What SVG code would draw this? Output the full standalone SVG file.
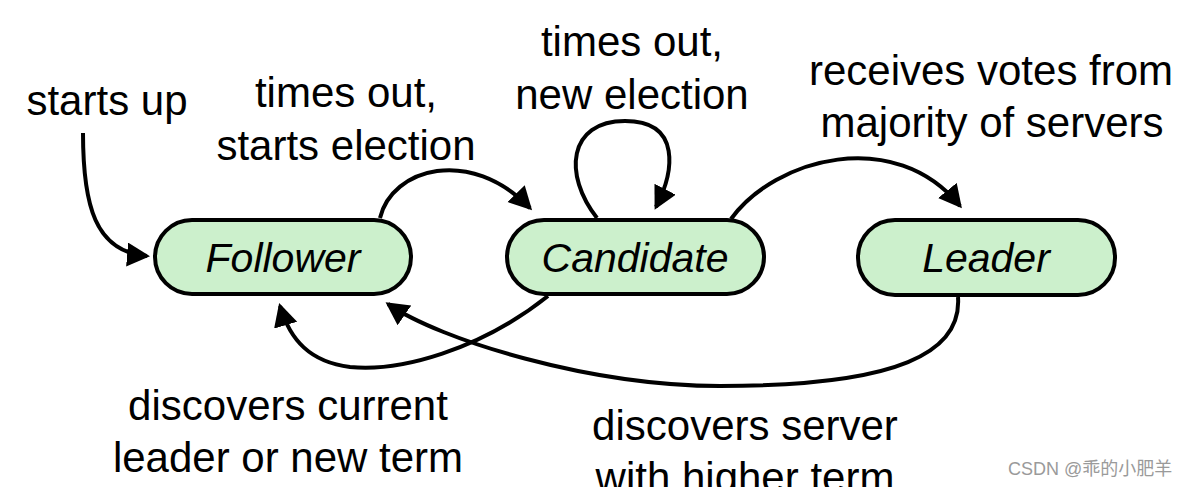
<svg xmlns="http://www.w3.org/2000/svg" width="1194" height="487" viewBox="0 0 1194 487">
<style>
.node{fill:#ccf0cc;stroke:#000;stroke-width:4}
.nl{font-family:"Liberation Sans",Arial,sans-serif;font-style:italic;font-size:41px;fill:#000;text-anchor:middle}
.lbl{font-family:"Liberation Sans",Arial,sans-serif;font-size:42px;fill:#000;text-anchor:middle}
.edge{fill:none;stroke:#000;stroke-width:4;marker-end:url(#ah)}
.wm{font-family:"Liberation Sans","Noto Sans CJK SC",sans-serif;font-size:18px;fill:#9a9a9a}
</style>
<defs>
<marker id="ah" markerUnits="userSpaceOnUse" markerWidth="26" markerHeight="26" refX="20" refY="12" orient="auto">
<path d="M0,0 L23,12 L0,24 z" fill="#000"/>
</marker>
</defs>
<rect width="1194" height="487" fill="#fff"/>
<g id="connectors">
<path class="edge" d="M83,133 C83,205 95,252 147,256"/>
<path class="edge" d="M380,218 C392,168 470,146 530,208"/>
<path class="edge" d="M597,218 C563,175 568,121 625,121 C682,121 674,172 656,207"/>
<path class="edge" d="M731,219 C775,158 895,126 960,206"/>
<path class="edge" d="M548,296 C480,350 400,372 350,367 C310,362 290,340 280,306"/>
<path class="edge" d="M958,297 C962,352 900,386 720,386 C590,386 440,340 388,304"/>
</g>
<g id="follower">
<rect class="node" x="155" y="220" width="256" height="74" rx="37"/>
<text class="nl" x="283" y="272">Follower</text>
</g>
<g id="candidate">
<rect class="node" x="507" y="220" width="257" height="74" rx="37"/>
<text class="nl" x="635" y="272">Candidate</text>
</g>
<g id="leader">
<rect class="node" x="858" y="220" width="257" height="75" rx="37"/>
<text class="nl" x="986" y="272">Leader</text>
</g>
<g id="labels">
<text class="lbl" x="107" y="115">starts up</text>
<text class="lbl" x="346" y="107">times out,</text>
<text class="lbl" x="346" y="160">starts election</text>
<text class="lbl" x="632" y="56">times out,</text>
<text class="lbl" x="632" y="109">new election</text>
<text class="lbl" x="991" y="85">receives votes from</text>
<text class="lbl" x="992" y="137">majority of servers</text>
<text class="lbl" x="288" y="420">discovers current</text>
<text class="lbl" x="288" y="472">leader or new term</text>
<text class="lbl" x="745" y="440">discovers server</text>
<text class="lbl" x="745" y="492">with higher term</text>
</g>
<text class="wm" x="1008" y="475">CSDN @乖的小肥羊</text>
</svg>
